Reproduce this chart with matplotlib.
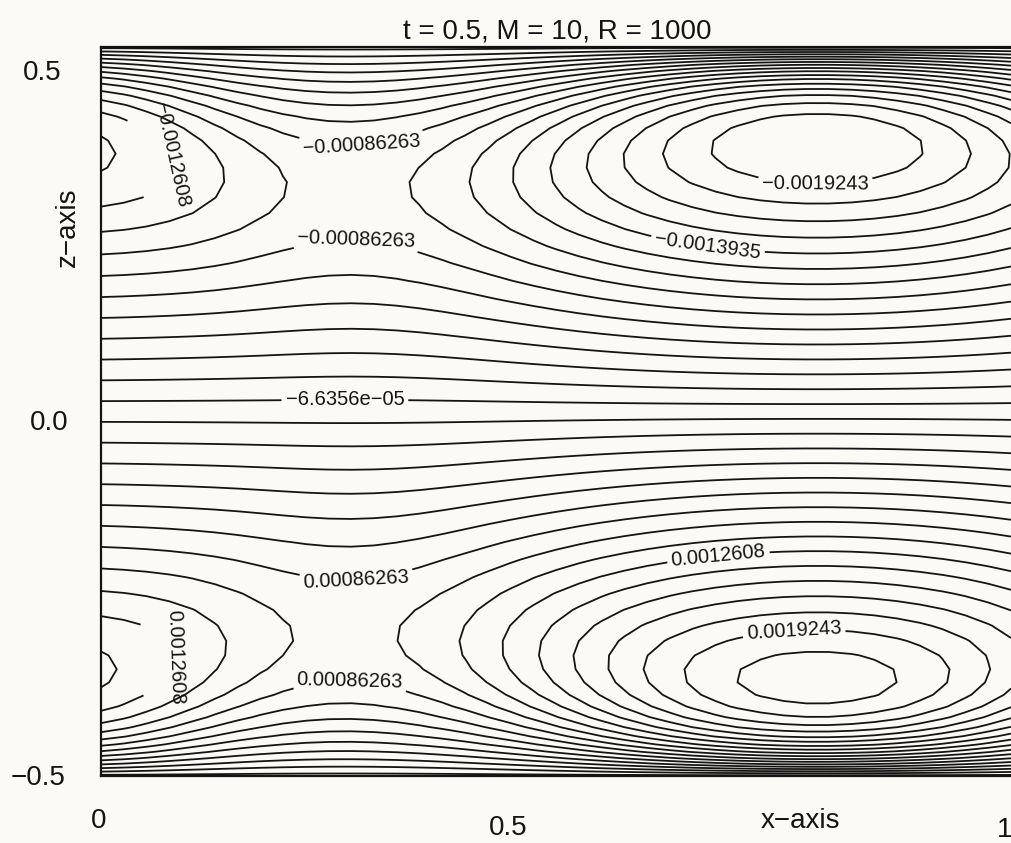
import numpy as np
import matplotlib
matplotlib.use("Agg")
from matplotlib import pyplot as plt

plt.rcParams['font.family'] = ['Liberation Sans', 'DejaVu Sans']

# contour levels are odd multiples of the base increment
step = 6.6356e-05
level_index = np.arange(-31, 32, 2)

# strength of the two cells along x: centre, peak value, width
cell_x = [-0.06, 0.787]
cell_peak = [1.05e-3, 1.72e-3]
cell_width = [0.265, 0.40]
peak_floor = 4.2e-4

# exponent controlling how fast the profile turns over near the walls
shape_floor = 2.6
shape_gain = [4.0, 4.6]
shape_width = [0.17, 0.29]

wall_value = 2.5e-4
wall_power = 6
skew = 0.065

# labelled contours: level index and anchor points (x, z)
label_index = [-29, -21, -19, -13, -1, 13, 19, 29]
label_xy = {
    -29: [(0.785, 0.318)],
    -21: [(0.667, 0.229)],
    -19: [(0.09, 0.355)],
    -13: [(0.285, 0.38), (0.28, 0.233)],
    -1: [(0.268, 0.012)],
    13: [(0.281, -0.237), (0.274, -0.384)],
    19: [(0.68, -0.22), (0.09, -0.34)],
    29: [(0.763, -0.333)],
}

W, H = 1011, 843
paper = '#fbfaf6'
ink = '#141414'

# grid: uniform in x, Chebyshev points in z
x = np.linspace(0, 1, 41)
z = 0.5 * np.cos(np.linspace(np.pi, 0, 61))
X, Z = np.meshgrid(x, z)

left = cell_peak[0] * np.exp(-((X - cell_x[0]) / cell_width[0]) ** 2)
right = cell_peak[1] * np.exp(-((X - cell_x[1]) / cell_width[1]) ** 2)
ridge = peak_floor + left + right * (1 - skew * Z)
n = shape_floor + sum(g * np.exp(-((X - c) / w) ** 2)
                      for c, g, w in zip(cell_x, shape_gain, shape_width))
zp = 0.5 * (1.0 / (n + 1)) ** (1.0 / n)
r = zp * (1 - (2 * zp) ** n)
u = np.abs(2 * Z)
psi = -ridge * Z * (1 - u ** n) / r + wall_value * np.sign(Z) * u ** wall_power

levels = step * level_index
plain = levels[~np.isin(level_index, label_index)]


def fmt(v):
    return ('%.5g' % v).replace('-', '\u2212')


fig = plt.figure(figsize=(W / 100, H / 100), dpi=100, facecolor=paper)
ax = fig.add_axes([101 / W, (H - 776) / H, 910 / W, (776 - 47) / H])
ax.set_facecolor(paper)

ax.contour(X, Z, psi, levels=plain, colors=ink, linewidths=1.3,
           linestyles='solid')
# labelled levels drawn one at a time so each gets its own inline labels
for k in label_index:
    cs = ax.contour(X, Z, psi, levels=[step * k], colors=ink, linewidths=1.3,
                    linestyles='solid')
    ax.clabel(cs, manual=label_xy[k], inline=True, inline_spacing=4,
              fmt=fmt, fontsize=14.5, colors=ink)

ax.set_xlim(0, 1)
ax.set_ylim(-0.5, 0.5)
ax.set_xticks([])
ax.set_yticks([])
ax.spines['right'].set_visible(False)
for s in ['left', 'top', 'bottom']:
    ax.spines[s].set_linewidth(1.6)
    ax.spines[s].set_color(ink)


def put(px, py, s, **kw):
    fig.text(px / W, 1 - py / H, s, color=ink, fontsize=20, **kw)


put(557, 38, 't = 0.5, M = 10, R = 1000', ha='center', va='baseline')
put(42, 80, '0.5', ha='center', va='baseline')
put(49, 430, '0.0', ha='center', va='baseline')
put(38, 785, '\u22120.5', ha='center', va='baseline')
put(99, 828, '0', ha='center', va='baseline')
put(508, 835, '0.5', ha='center', va='baseline')
put(800, 828, 'x\u2212axis', ha='center', va='baseline')
put(1005, 837, '1', ha='center', va='baseline')
put(68, 227, 'z\u2212axis', ha='center', va='center', rotation=90)

fig.savefig('out.png', dpi=100, facecolor=paper)
